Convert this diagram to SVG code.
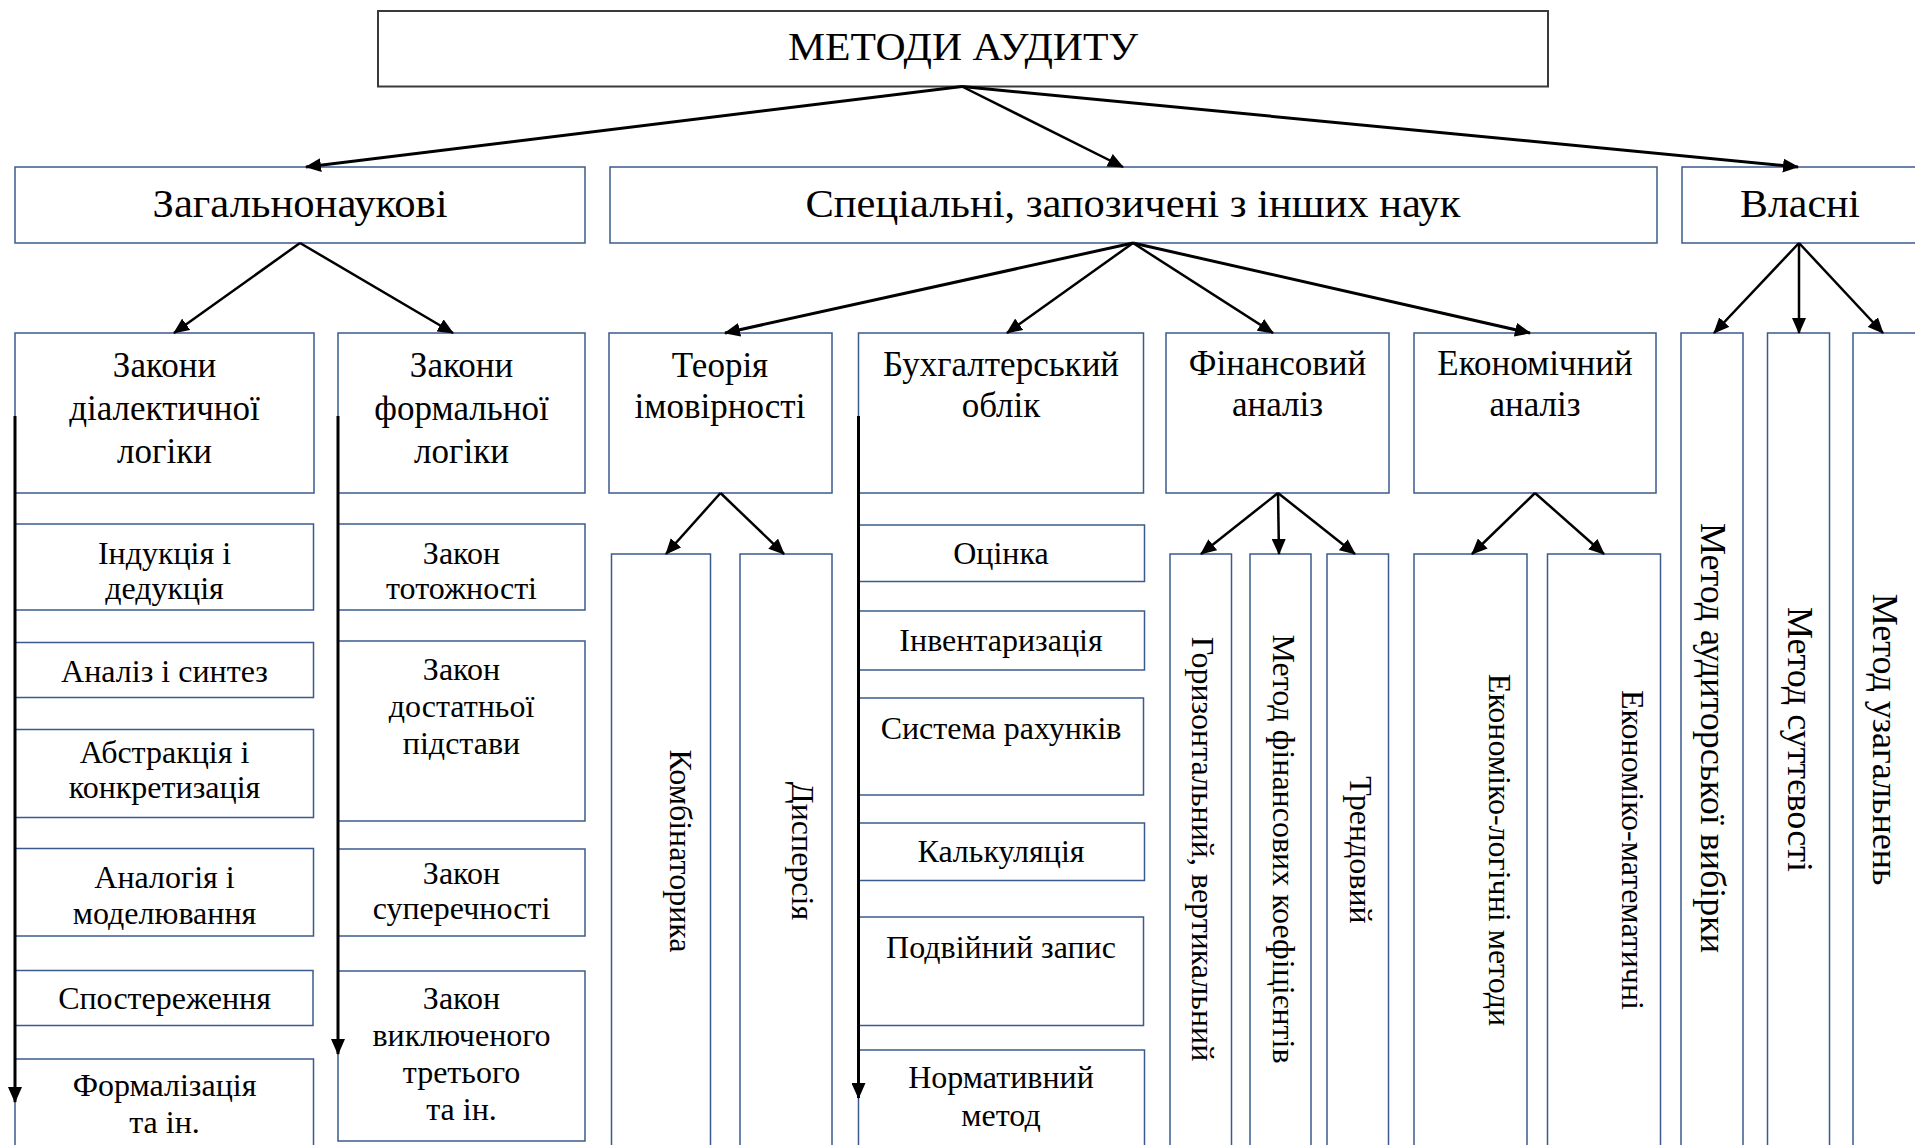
<svg xmlns="http://www.w3.org/2000/svg" width="1915" height="1145" viewBox="0 0 1915 1145">
  <style>
    .box { fill: #ffffff; stroke: #3b5a8e; stroke-width: 1.5; }
    .top { fill: #ffffff; stroke: #3a3a3a; stroke-width: 2; }
    text { font-family: "Liberation Serif", "Times New Roman", serif; fill: #000000; text-anchor: middle; }
    .t1 { font-size: 40px; }
    .t2 { font-size: 41px; }
    .t3 { font-size: 35px; }
    .t4 { font-size: 32px; }
    .v32 { font-size: 32px; }
    .v36 { font-size: 36px; }
    .c { fill: none; stroke: #000000; stroke-width: 2.5; marker-end: url(#ah); }
    .c3 { stroke-width: 3; }
  </style>
  <defs>
    <marker id="ah" markerUnits="userSpaceOnUse" markerWidth="16" markerHeight="14" viewBox="0 0 16 14" refX="15" refY="7" orient="auto">
      <path d="M0,0 L16,7 L0,14 z" fill="#000000"/>
    </marker>
  </defs>

  <rect width="1915" height="1145" fill="#ffffff"/>

  <!-- root -->
  <g id="n-root">
    <rect class="top" x="378" y="11" width="1170" height="75.5"/>
    <text class="t1" x="963" y="60" textLength="350" lengthAdjust="spacingAndGlyphs">МЕТОДИ АУДИТУ</text>
  </g>

  <!-- second level -->
  <g id="n-general">
    <rect class="box" x="15" y="167" width="570" height="76"/>
    <text class="t2" x="300" y="217" textLength="295" lengthAdjust="spacingAndGlyphs">Загальнонаукові</text>
  </g>
  <g id="n-special">
    <rect class="box" x="610" y="167" width="1047" height="76"/>
    <text class="t2" x="1133" y="217" textLength="655" lengthAdjust="spacingAndGlyphs">Спеціальні, запозичені з інших наук</text>
  </g>
  <g id="n-own">
    <rect class="box" x="1682" y="167" width="240" height="76"/>
    <text class="t2" x="1800" y="217" textLength="120" lengthAdjust="spacingAndGlyphs">Власні</text>
  </g>

  <!-- third level -->
  <g id="n-dialectic">
    <rect class="box" x="15" y="333" width="299" height="160"/>
    <text class="t3" x="164.5" y="377">Закони</text>
    <text class="t3" x="164.5" y="420">діалектичної</text>
    <text class="t3" x="164.5" y="463">логіки</text>
  </g>
  <g id="n-formal">
    <rect class="box" x="338" y="333" width="247" height="160"/>
    <text class="t3" x="461.5" y="377">Закони</text>
    <text class="t3" x="461.5" y="420">формальної</text>
    <text class="t3" x="461.5" y="463">логіки</text>
  </g>
  <g id="n-probability">
    <rect class="box" x="609" y="333" width="223" height="160"/>
    <text class="t3" x="720" y="377">Теорія</text>
    <text class="t3" x="720" y="418">імовірності</text>
  </g>
  <g id="n-accounting">
    <rect class="box" x="858.5" y="333" width="285" height="160"/>
    <text class="t3" x="1001" y="376">Бухгалтерський</text>
    <text class="t3" x="1001" y="417">облік</text>
  </g>
  <g id="n-financial">
    <rect class="box" x="1166" y="333" width="223" height="160"/>
    <text class="t3" x="1277.5" y="375">Фінансовий</text>
    <text class="t3" x="1277.5" y="416">аналіз</text>
  </g>
  <g id="n-economic">
    <rect class="box" x="1414" y="333" width="242" height="160"/>
    <text class="t3" x="1535" y="375">Економічний</text>
    <text class="t3" x="1535" y="416">аналіз</text>
  </g>

  <!-- own methods (tall columns) -->
  <g id="n-sampling">
    <rect class="box" x="1681" y="333" width="62" height="830"/>
    <text class="v36" transform="translate(1701 738) rotate(90)">Метод аудиторської вибірки</text>
  </g>
  <g id="n-materiality">
    <rect class="box" x="1767.5" y="333" width="62" height="830"/>
    <text class="v36" transform="translate(1788 739.5) rotate(90)">Метод суттєвості</text>
  </g>
  <g id="n-generalisation">
    <rect class="box" x="1853" y="333" width="64" height="830"/>
    <text class="v36" transform="translate(1873 739.5) rotate(90)">Метод узагальнень</text>
  </g>

  <!-- dialectic logic methods -->
  <g id="n-induction">
    <rect class="box" x="15" y="524" width="298.5" height="86"/>
    <text class="t4" x="164.5" y="564">Індукція і</text>
    <text class="t4" x="164.5" y="599">дедукція</text>
  </g>
  <g id="n-analysis">
    <rect class="box" x="15" y="642.5" width="298.5" height="55"/>
    <text class="t4" x="164.5" y="682">Аналіз і синтез</text>
  </g>
  <g id="n-abstraction">
    <rect class="box" x="15" y="729.5" width="298.5" height="88"/>
    <text class="t4" x="164.5" y="763">Абстракція і</text>
    <text class="t4" x="164.5" y="798">конкретизація</text>
  </g>
  <g id="n-analogy">
    <rect class="box" x="15" y="848.5" width="298.5" height="87.5"/>
    <text class="t4" x="164.5" y="888">Аналогія і</text>
    <text class="t4" x="164.5" y="924">моделювання</text>
  </g>
  <g id="n-observation">
    <rect class="box" x="15" y="970.5" width="298" height="55"/>
    <text class="t4" x="164.5" y="1009">Спостереження</text>
  </g>
  <g id="n-formalisation">
    <rect class="box" x="15" y="1059" width="298.5" height="100"/>
    <text class="t4" x="164.5" y="1096">Формалізація</text>
    <text class="t4" x="164.5" y="1133">та ін.</text>
  </g>

  <!-- formal logic laws -->
  <g id="n-identity">
    <rect class="box" x="338" y="524" width="247" height="86"/>
    <text class="t4" x="461.5" y="564">Закон</text>
    <text class="t4" x="461.5" y="599">тотожності</text>
  </g>
  <g id="n-sufficient">
    <rect class="box" x="338" y="641" width="247" height="180"/>
    <text class="t4" x="461.5" y="680">Закон</text>
    <text class="t4" x="461.5" y="717">достатньої</text>
    <text class="t4" x="461.5" y="754">підстави</text>
  </g>
  <g id="n-contradiction">
    <rect class="box" x="338" y="849" width="247" height="87"/>
    <text class="t4" x="461.5" y="884">Закон</text>
    <text class="t4" x="461.5" y="919">суперечності</text>
  </g>
  <g id="n-excluded">
    <rect class="box" x="338" y="971" width="247" height="170"/>
    <text class="t4" x="461.5" y="1009">Закон</text>
    <text class="t4" x="461.5" y="1046">виключеного</text>
    <text class="t4" x="461.5" y="1083">третього</text>
    <text class="t4" x="461.5" y="1120">та ін.</text>
  </g>

  <!-- probability theory -->
  <g id="n-combinatorics">
    <rect class="box" x="611.5" y="554" width="99" height="610"/>
    <text class="v32" transform="translate(670 851) rotate(90)">Комбінаторика</text>
  </g>
  <g id="n-dispersion">
    <rect class="box" x="740" y="554" width="92" height="610"/>
    <text class="v32" transform="translate(792 851) rotate(90)">Дисперсія</text>
  </g>

  <!-- accounting methods -->
  <g id="n-valuation">
    <rect class="box" x="858.5" y="525" width="286" height="56.5"/>
    <text class="t4" x="1001" y="564">Оцінка</text>
  </g>
  <g id="n-inventory">
    <rect class="box" x="858.5" y="611" width="286" height="59"/>
    <text class="t4" x="1001" y="651">Інвентаризація</text>
  </g>
  <g id="n-accounts">
    <rect class="box" x="858.5" y="698" width="285" height="97"/>
    <text class="t4" x="1001" y="739">Система рахунків</text>
  </g>
  <g id="n-costing">
    <rect class="box" x="858.5" y="823" width="286" height="57.5"/>
    <text class="t4" x="1001" y="862">Калькуляція</text>
  </g>
  <g id="n-double">
    <rect class="box" x="858.5" y="917" width="285" height="108.5"/>
    <text class="t4" x="1001" y="958">Подвійний запис</text>
  </g>
  <g id="n-normative">
    <rect class="box" x="858.5" y="1050" width="286" height="110"/>
    <text class="t4" x="1001" y="1088">Нормативний</text>
    <text class="t4" x="1001" y="1126">метод</text>
  </g>

  <!-- financial analysis methods -->
  <g id="n-horizontal">
    <rect class="box" x="1170" y="554" width="61.5" height="610"/>
    <text class="v32" transform="translate(1192 849) rotate(90)">Горизонтальний, вертикальний</text>
  </g>
  <g id="n-ratios">
    <rect class="box" x="1250" y="554" width="61" height="610"/>
    <text class="v32" transform="translate(1273 849) rotate(90)">Метод фінансових коефіцієнтів</text>
  </g>
  <g id="n-trend">
    <rect class="box" x="1327" y="554" width="61.5" height="610"/>
    <text class="v32" transform="translate(1350 850) rotate(90)">Трендовий</text>
  </g>

  <!-- economic analysis methods -->
  <g id="n-econ-logic">
    <rect class="box" x="1414" y="554" width="113" height="610"/>
    <text class="v32" transform="translate(1489 850) rotate(90)">Економіко-логічні методи</text>
  </g>
  <g id="n-econ-math">
    <rect class="box" x="1547.5" y="554" width="113" height="610"/>
    <text class="v32" transform="translate(1622 850) rotate(90)">Економіко-математичні</text>
  </g>

  <!-- connectors -->
  <g id="connectors">
    <line class="c c3" x1="962" y1="86.5" x2="306" y2="167"/>
    <line class="c" x1="962" y1="86.5" x2="1123" y2="167"/>
    <line class="c c3" x1="962" y1="86.5" x2="1798" y2="167"/>

    <line class="c" x1="300" y1="243" x2="174" y2="333"/>
    <line class="c" x1="300" y1="243" x2="453" y2="333"/>

    <line class="c c3" x1="1133" y1="243" x2="725" y2="333"/>
    <line class="c" x1="1133" y1="243" x2="1007" y2="333"/>
    <line class="c" x1="1133" y1="243" x2="1273" y2="333"/>
    <line class="c c3" x1="1133" y1="243" x2="1530" y2="333"/>

    <line class="c" x1="1799" y1="243" x2="1714" y2="333"/>
    <line class="c" x1="1799" y1="243" x2="1799" y2="333"/>
    <line class="c" x1="1799" y1="243" x2="1883" y2="333"/>

    <line class="c" x1="720.5" y1="493" x2="666" y2="554"/>
    <line class="c" x1="720.5" y1="493" x2="784" y2="554"/>

    <line class="c" x1="1278" y1="493" x2="1201" y2="554"/>
    <line class="c" x1="1278" y1="493" x2="1279" y2="554"/>
    <line class="c" x1="1278" y1="493" x2="1355" y2="554"/>

    <line class="c" x1="1535" y1="493" x2="1472" y2="554"/>
    <line class="c" x1="1535" y1="493" x2="1604" y2="554"/>

    <line class="c c3" x1="15" y1="416" x2="15" y2="1102"/>
    <line class="c c3" x1="338" y1="416" x2="338" y2="1054"/>
    <line class="c c3" x1="858.5" y1="416" x2="858.5" y2="1098"/>
  </g>
</svg>
